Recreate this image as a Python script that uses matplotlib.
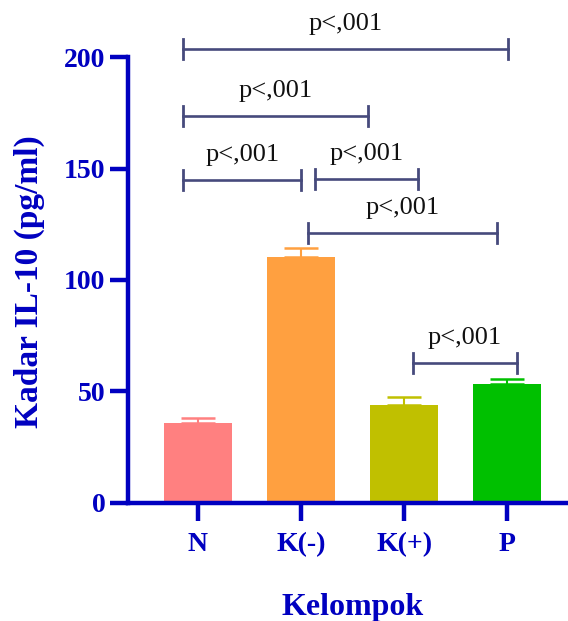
import numpy as np
import matplotlib
matplotlib.use("Agg")
import matplotlib.pyplot as plt

# data
groups = ["N", "K(-)", "K(+)", "P"]
means = [35.7, 110.5, 43.9, 53.2]
sem = [2.2, 3.7, 3.4, 2.5]
bar_colors = ["#ff8080", "#ffa040", "#c0c000", "#00c000"]

# significance brackets: (x start, x end, height, label)
brk_x0 = [-0.14, -0.14, -0.14, 1.137, 1.072, 2.089]
brk_x1 = [3.004, 1.653, 1.001, 2.137, 2.897, 3.091]
brk_y = [203.6, 173.6, 144.9, 145.3, 121.0, 62.6]
brk_txt = ["p<,001"] * 6

blue = "#0000c0"
brk_col = "#464a7c"
serif = ["Liberation Serif", "DejaVu Serif"]

fig = plt.figure(figsize=(5.68, 6.21), dpi=100)
ax = fig.add_axes([128.3 / 568, (621 - 502.7) / 621, 1 - 128.3 / 568, (502.7 - 57.3) / 621])

x = np.arange(len(groups))
ax.bar(x, means, width=0.66, color=bar_colors, zorder=2)
for xi, m, e, c in zip(x, means, sem, bar_colors):
    ax.errorbar(xi, m, yerr=[[0], [e]], fmt="none", ecolor=c,
                elinewidth=1.5, capsize=12, capthick=1.8, zorder=3)

ax.set_xlim(-0.672, 3.588)
ax.set_ylim(0, 200)
ax.set_yticks([0, 50, 100, 150, 200])
ax.set_xticks(x)
ax.set_xticklabels(groups)

for s in ["top", "right"]:
    ax.spines[s].set_visible(False)
for s in ["left", "bottom"]:
    ax.spines[s].set_color(blue)
    ax.spines[s].set_linewidth(3.2)
ax.tick_params(axis="both", colors=blue, length=13, width=3.2)
ax.tick_params(axis="y", pad=3.5)
ax.tick_params(axis="x", pad=8)
for lab in ax.get_xticklabels() + ax.get_yticklabels():
    lab.set_family(serif)
    lab.set_fontweight("bold")
    lab.set_fontsize(20)
    lab.set_color(blue)

# brackets with end ticks
tick_h = 10 / 2.227
for x0, x1, y, t in zip(brk_x0, brk_x1, brk_y, brk_txt):
    ax.plot([x0, x1], [y, y], color=brk_col, lw=1.9, clip_on=False, zorder=4)
    for xe in (x0, x1):
        ax.plot([xe, xe], [y - tick_h, y + tick_h], color=brk_col, lw=2.0,
                clip_on=False, zorder=4)
    ax.text((x0 + x1) / 2, y + 8.6, t, ha="center", va="baseline",
            family=serif, fontsize=19, color="#111111")

fig.text(29 / 568, 1 - 282 / 621, "Kadar IL-10 (pg/ml)", rotation=90,
         ha="center", va="center", family=serif, fontweight="bold",
         fontsize=24, color=blue)
fig.text(353 / 568, 1 - 615 / 621, "Kelompok", ha="center", va="baseline",
         family=serif, fontweight="bold", fontsize=23, color=blue)

fig.savefig("out.png", dpi=100)
